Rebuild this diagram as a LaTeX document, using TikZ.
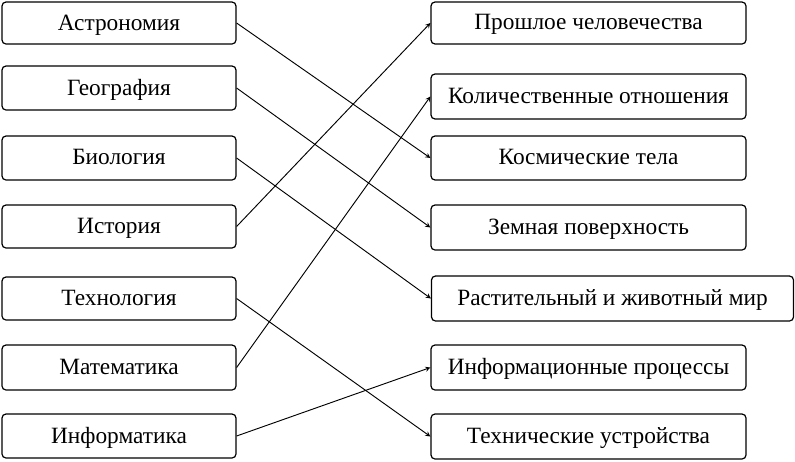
\documentclass[tikz,border=0pt]{standalone}
\usepackage{fontspec}
\setmainfont{Liberation Serif}
\begin{document}
\begin{tikzpicture}[x=0.75pt,y=-0.75pt,
  box/.style={draw,rounded corners=3pt,font=\fontsize{17.5pt}{20pt}\selectfont,inner sep=0pt,line width=0.9pt,text depth=1pt},
  arr/.style={->,>=stealth,line width=0.7pt}]
\useasboundingbox (0,0) rectangle (795,461);
\newcommand{\lb}[4]{\node[box,minimum width=234*0.75pt,minimum height=#3*0.75pt] (#1) at (119,#2) {#4};}
\newcommand{\rb}[4]{\node[box,minimum width=315*0.75pt,minimum height=#3*0.75pt] (#1) at (588.5,#2) {#4};}
\lb{a}{23}{42}{Астрономия}
\lb{g}{88}{44}{География}
\lb{b}{158}{44}{Биология}
\lb{h}{226.5}{43}{История}
\lb{t}{298.5}{43}{Технология}
\lb{m}{367.5}{45}{Математика}
\lb{i}{436}{44}{Информатика}
\rb{p}{23}{42}{Прошлое человечества}
\rb{q}{96.5}{45}{Количественные отношения}
\rb{c}{158}{44}{Космические тела}
\rb{z}{227.5}{45}{Земная поверхность}
\node[box,minimum width=362*0.75pt,minimum height=45*0.75pt] (r) at (612.5,298.5) {Растительный и животный мир};
\rb{n}{367.5}{45}{Информационные процессы}
\rb{s}{436.5}{45}{Технические устройства}
\draw[arr] (a.east) -- (c.west);
\draw[arr] (g.east) -- (z.west);
\draw[arr] (b.east) -- (r.west);
\draw[arr] (h.east) -- (p.west);
\draw[arr] (t.east) -- (s.west);
\draw[arr] (m.east) -- (q.west);
\draw[arr] (i.east) -- (n.west);
\end{tikzpicture}
\end{document}
